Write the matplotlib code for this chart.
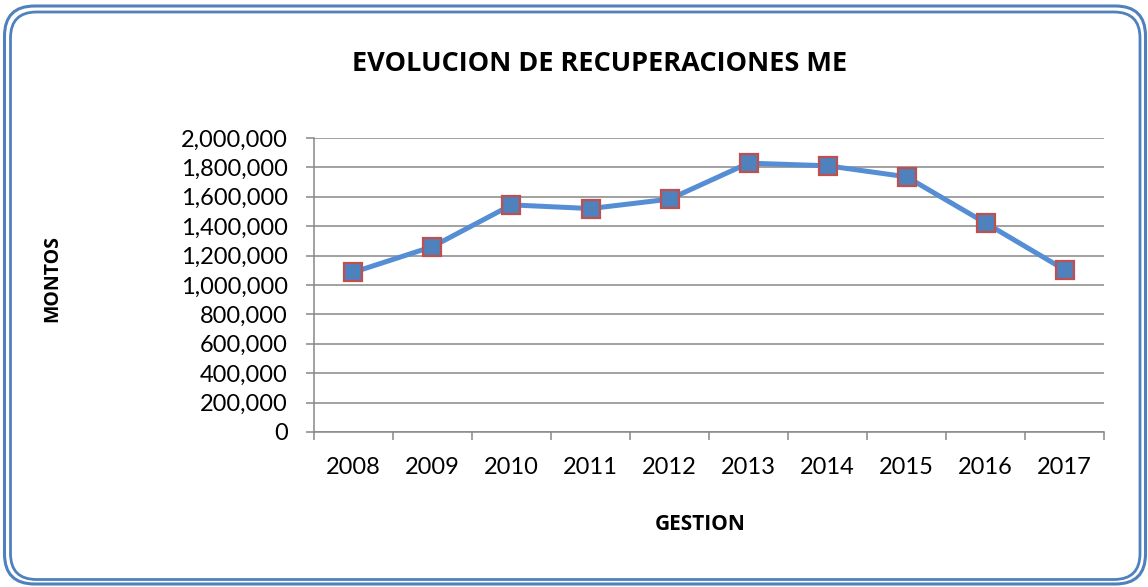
import matplotlib
matplotlib.use('Agg')
import matplotlib.pyplot as plt
from matplotlib.patches import FancyBboxPatch
from matplotlib.ticker import FuncFormatter, MultipleLocator, FixedLocator

years = ['2008', '2009', '2010', '2011', '2012', '2013', '2014', '2015', '2016', '2017']
montos = [1087000, 1261000, 1545000, 1520000, 1584000, 1829000, 1811000, 1736000, 1422000, 1104000]

plt.rcParams['font.family'] = ['Lato', 'DejaVu Sans']

W, H = 1148, 587
fig = plt.figure(figsize=(W / 100, H / 100), dpi=100)

# rounded double frame (pixel coords / 100 -> inches)
def frame(x0, y0, x1, y1, lw, r):
    p = FancyBboxPatch((x0 / 100, (H - y1) / 100), (x1 - x0) / 100, (y1 - y0) / 100,
                       boxstyle=f'round,pad=0,rounding_size={r / 100}',
                       transform=fig.dpi_scale_trans, fill=False,
                       edgecolor='#4f81bd', lw=lw)
    fig.patches.append(p)

frame(4.5, 6, 1145.5, 584, 2.2, 30)
frame(10.5, 12, 1140, 579.5, 2.0, 26)

ax = fig.add_axes([314 / W, (H - 432) / H, 790 / W, 294 / H])
x = list(range(len(years)))
ax.plot(x, montos, color='#558ed5', lw=3.6, marker='s', ms=13.5,
        mfc='#4f81bd', mec='#c0504d', mew=1.6, solid_joinstyle='round', zorder=3)

ax.set_xlim(-0.5, len(years) - 0.5)
ax.set_ylim(0, 2000000)
ax.yaxis.set_major_locator(MultipleLocator(200000))
ax.yaxis.set_major_formatter(FuncFormatter(lambda v, p: f'{v:,.0f}'))
ax.grid(axis='y', color='#888888', lw=1.1)
ax.set_axisbelow(True)

ax.xaxis.set_major_locator(FixedLocator([i - 0.5 for i in range(len(years) + 1)]))
ax.xaxis.set_major_formatter(FuncFormatter(lambda v, p: ''))
ax.xaxis.set_minor_locator(FixedLocator(x))
ax.set_xticks(x, years, minor=True)
ax.tick_params(axis='x', which='major', length=6, color='#888888', width=1.1)
ax.tick_params(axis='x', which='minor', length=0, pad=18, labelsize=17)
ax.tick_params(axis='y', length=6, color='#888888', width=1.1, pad=13, labelsize=17)

for s in ['top', 'right']:
    ax.spines[s].set_visible(False)
for s in ['left', 'bottom']:
    ax.spines[s].set_color('#888888')
    ax.spines[s].set_linewidth(1.1)

bold = ['Open Sans', 'DejaVu Sans']
fig.text(600 / W, 1 - 64 / H, 'EVOLUCION DE RECUPERACIONES ME', ha='center', va='center',
         fontsize=19.5, fontweight='bold', family=bold)
fig.text(52.5 / W, 1 - 279 / H, 'MONTOS', ha='center', va='center', rotation=90,
         fontsize=14, fontweight='bold', family=bold)
fig.text(700 / W, 1 - 524 / H, 'GESTION', ha='center', va='center',
         fontsize=15, fontweight='bold', family=bold)

fig.savefig('out.png', dpi=100)
